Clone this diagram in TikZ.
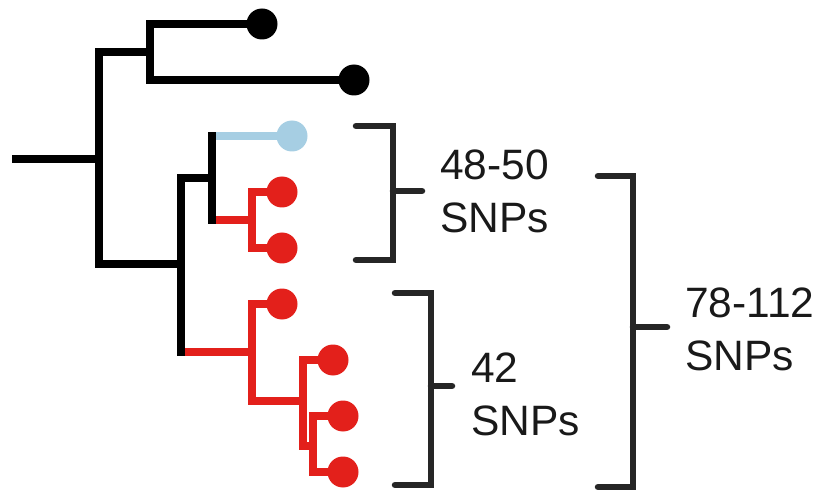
\documentclass[tikz,border=0pt]{standalone}
\usepackage{fontspec}
\setmainfont{Liberation Sans}
\usetikzlibrary{positioning,calc}
\definecolor{cladered}{HTML}{E3201B}
\definecolor{cladeblue}{HTML}{A6CEE3}
\definecolor{brackgray}{HTML}{262626}

\begin{document}
\begin{tikzpicture}[x=1pt,y=-1pt,
  branch/.style={line width=8.5pt,line cap=rect,line join=miter},
  leaf/.style={circle,inner sep=0pt,minimum size=31pt,fill=#1},
  brack/.style={line width=6.5pt,line cap=round,line join=miter,draw=brackgray},
  snps/.style={align=left,font=\fontsize{42.5}{53}\selectfont,text=black!90,inner sep=0pt}]
\useasboundingbox (0,0) rectangle (823,492);
% inner nodes of the tree
\coordinate (root) at (16,159);
\coordinate (n0) at (99,159);
\coordinate (nA) at (150,52);
\coordinate (nB) at (181,264);
\coordinate (nC) at (212,178);
\coordinate (nD) at (252,220);
\coordinate (nE) at (252,352);
\coordinate (nF) at (303,401);
\coordinate (nG) at (313,446);
% leaves
\node[leaf=black] (t1) at (262,24) {};
\node[leaf=black] (t2) at (354,80) {};
\node[leaf=cladeblue] (t3) at (292,136) {};
\node[leaf=cladered] (t4) at (282,192) {};
\node[leaf=cladered] (t5) at (282,248) {};
\node[leaf=cladered] (t6) at (282,304) {};
\node[leaf=cladered] (t7) at (333,360) {};
\node[leaf=cladered] (t8) at (343,416) {};
\node[leaf=cladered] (t9) at (343,472) {};
% black backbone
\draw[branch] (root) -- (n0);
\draw[branch] (n0) |- (nA);
\draw[branch] (n0) |- (nB);
\draw[branch] (nA) |- (t1);
\draw[branch] (nA) |- (t2);
% coloured stems, under the black verticals
\draw[branch,cladered] (nB |- nE) -- (nE);
\draw[branch,cladeblue] (nC |- t3) -- (t3);
\draw[branch,cladered] (nC |- nD) -- (nD);
\draw[branch] (nB) |- (nC);
\draw[branch] (nB) -- (nB |- nE);
\draw[branch] (nC |- t3) -- (nC |- nD);
% red clades
\draw[branch,cladered] (nD) |- (t4);
\draw[branch,cladered] (nD) |- (t5);
\draw[branch,cladered] (nE) |- (t6);
\draw[branch,cladered] (nE) |- (nF);
\draw[branch,cladered] (nF) |- (t7);
\draw[branch,cladered] (nF) |- (nG);
\draw[branch,cladered] (nG) |- (t8);
\draw[branch,cladered] (nG) |- (t9);
% brackets
\draw[brack] (356,126) -| (393,260) -- (356,260);
\draw[brack] (393,191) -- (422,191) coordinate (b1);
\node[snps,right=18pt of b1] (s1) {48-50\\SNPs};
\draw[brack] (395,293) -| (431,485) -- (395,485);
\draw[brack] (431,386) -- (452,386) coordinate (b2);
\node[snps,right=19pt of b2,yshift=-8pt] (s2) {42\\SNPs};
\draw[brack] (598,176) -| (633,487) -- (598,487);
\draw[brack] (633,327) -- (667,327) coordinate (b3);
\node[snps,right=18pt of b3,yshift=-2.5pt] (s3) {78-112\\SNPs};
\end{tikzpicture}
\end{document}
